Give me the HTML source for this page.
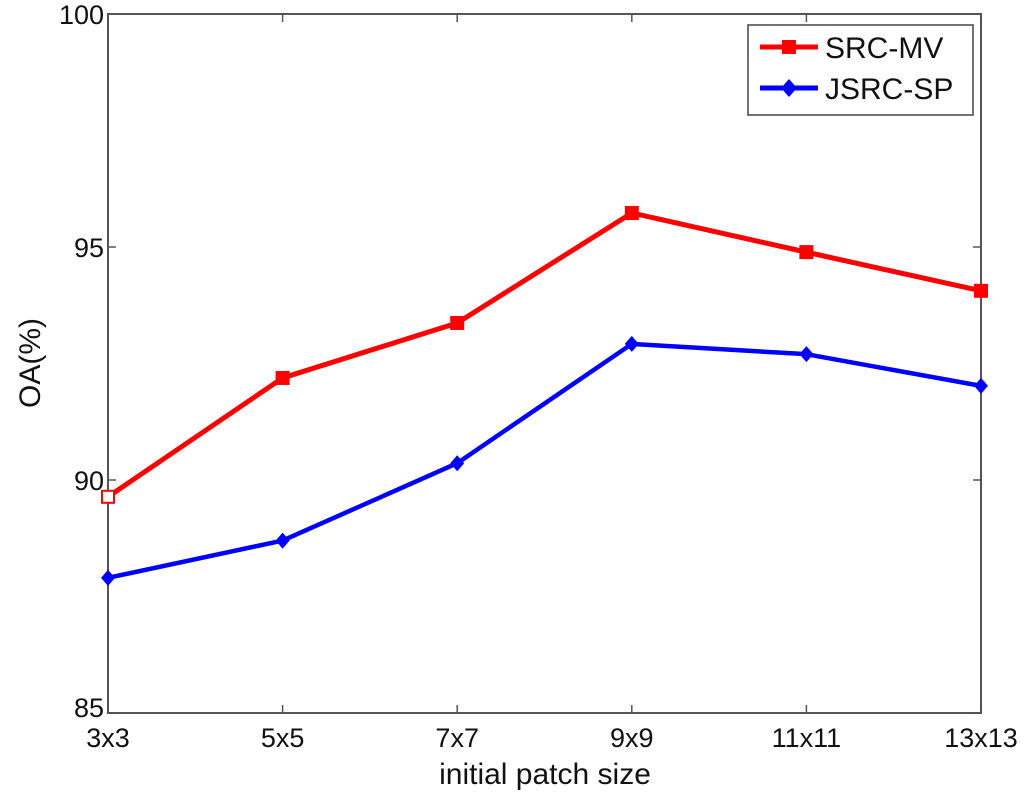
<!DOCTYPE html>
<html><head><meta charset="utf-8"><style>
html,body{margin:0;padding:0;background:#fff;}
svg{display:block;font-family:"Liberation Sans",Arial,sans-serif;}
</style></head><body>
<svg id="chart" width="1024" height="796" viewBox="0 0 1024 796">
<g id="axes"></g><g id="series"></g>
<g>
<rect x="748" y="25" width="225" height="90" fill="#fff" stroke="#444" stroke-width="1.5"/>
<g>
<line x1="760" y1="47" x2="818" y2="47" stroke="#f00" stroke-width="5"/>
<rect x="782" y="40" width="14" height="14" fill="#f00"/>
<text x="825" y="58" font-size="30" fill="#111">SRC-MV</text></g>
<g>
<line x1="760" y1="88" x2="818" y2="88" stroke="#00f" stroke-width="5"/>
<polygon points="789,79 797,88 789,97 781,88" fill="#00f"/>
<text x="825" y="99" font-size="30" fill="#111">JSRC-SP</text></g>
</g>
</svg>
<script>
const categories=["3x3","5x5","7x7","9x9","11x11","13x13"];
const srcMV=[89.64,92.19,93.37,95.73,94.89,94.06];
const jsrcSP=[87.9,88.7,90.36,92.92,92.7,92.02];
const yTicks=[85,90,95,100];
const L=108,R=981,T=14,B=713,yMin=85,yMax=100;
const NS="http://www.w3.org/2000/svg";
const xs=i=>L+(R-L)*i/(categories.length-1);
const ys=v=>B-(v-yMin)/(yMax-yMin)*(B-T);
function mk(tag,attrs,parent,txt){const e=document.createElementNS(NS,tag);for(const k in attrs)e.setAttribute(k,attrs[k]);if(txt!==undefined)e.textContent=txt;parent.appendChild(e);return e;}
const ax=document.getElementById('axes');
const frame=mk('rect',{x:L,y:T,width:R-L,height:B-T,fill:'none',stroke:'#555','stroke-width':2},ax);


yTicks.forEach(v=>{const y=ys(v);
mk('line',{x1:L,y1:y,x2:L+8,y2:y,stroke:'#555','stroke-width':1.5},ax);
mk('line',{x1:R,y1:y,x2:R-8,y2:y,stroke:'#555','stroke-width':1.5},ax);
const t=mk('text',{x:L-4,y:y+10+(v===85?-6:0),'text-anchor':'end','font-size':27,fill:'#111'},ax,v);

});
categories.forEach((c,i)=>{const x=xs(i);
mk('line',{x1:x,y1:B,x2:x,y2:B-8,stroke:'#555','stroke-width':1.5},ax);
mk('line',{x1:x,y1:T,x2:x,y2:T+8,stroke:'#555','stroke-width':1.5},ax);
const t=mk('text',{x:x,y:747,'text-anchor':'middle','font-size':27,fill:'#111'},ax,c);

});
const xt=mk('text',{x:545,y:784,'text-anchor':'middle','font-size':30,fill:'#111'},ax,'initial patch size');


const yt=mk('text',{x:0,y:0,transform:'translate(40,363) rotate(-90)','text-anchor':'middle','font-size':30,fill:'#111'},ax,'OA(%)');


const sg=document.getElementById('series');
function draw(vals,color,marker,name,w){
const g=mk('g',{},sg);


mk('polyline',{points:vals.map((v,i)=>xs(i)+','+ys(v)).join(' '),fill:'none',stroke:color,'stroke-width':w,'stroke-linejoin':'round'},g);
vals.forEach((v,i)=>{const x=xs(i),y=ys(v);let m;
if(marker==='sq')m=mk('rect',{x:x-6,y:y-6,width:12,height:12,fill:i===0?'#fff':color,stroke:color,'stroke-width':2},g);
else m=mk('polygon',{points:`${x},${y-8} ${x+7},${y} ${x},${y+8} ${x-7},${y}`,fill:color},g);

});}
draw(srcMV,'#f00','sq','series-src-mv',5);
draw(jsrcSP,'#00f','di','series-jsrc-sp',4.5);
</script>
</body></html>
